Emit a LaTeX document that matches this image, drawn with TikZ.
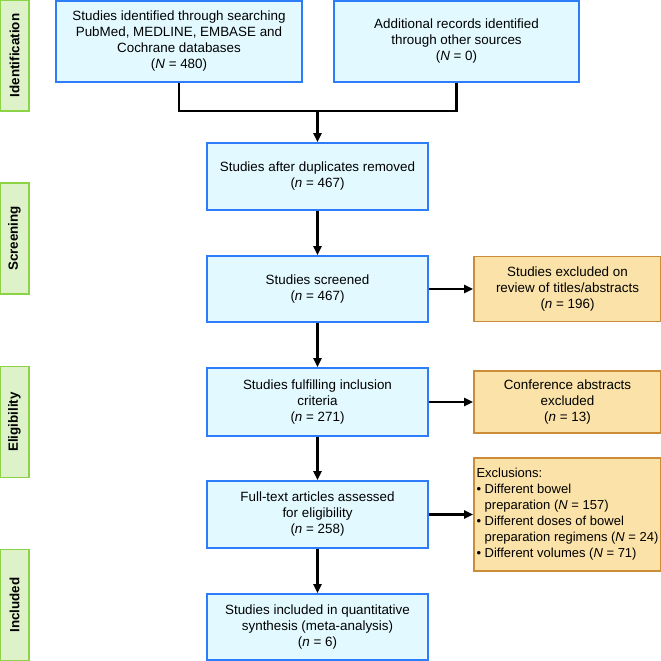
\documentclass[tikz,border=0pt]{standalone}
\usepackage{fontspec}
\setmainfont{Liberation Sans}
\usetikzlibrary{arrows.meta}

\definecolor{boxblue}{RGB}{45,125,250}
\definecolor{fillblue}{RGB}{226,250,255}
\definecolor{boxorange}{RGB}{205,140,55}
\definecolor{fillorange}{RGB}{250,226,168}
\definecolor{tabgreen}{RGB}{140,212,70}
\definecolor{filltab}{RGB}{222,242,202}

\tikzset{
  boxfont/.style={font=\fontsize{13.4}{16}\selectfont},
  flowbox/.style={boxfont, draw=boxblue, fill=fillblue, line width=1.8pt, align=center, inner sep=0pt},
  exclbox/.style={boxfont, draw=boxorange, fill=fillorange, line width=1.8pt, align=center, inner sep=0pt},
  phase/.style={font=\fontsize{13.4}{16}\selectfont\bfseries, draw=tabgreen, fill=filltab, line width=1.8pt,
    minimum width=111pt, minimum height=29pt, rotate=90, inner sep=0pt},
  arr/.style={-{Triangle[length=9pt,width=8pt]}, line width=2.2pt},
}

\begin{document}
\begin{tikzpicture}[x=1pt, y=-1pt]
    \useasboundingbox (0,0) rectangle (661,661);

    % Phases
    \node[phase] (identification) at (14.5,55.5) {Identification};
    \node[phase] (screening) at (14.5,238.5) {Screening};
    \node[phase] (eligibility) at (14.5,422) {Eligibility};
    \node[phase] (included) at (14.5,605) {Included};

    % Main boxes
    \node[flowbox, minimum width=246pt, minimum height=81pt] (searched) at (179,41.5)
        {Studies identified through searching\\PubMed, MEDLINE, EMBASE and\\Cochrane databases\\(\textit{N} = 480)};
    \node[flowbox, minimum width=245pt, minimum height=81pt] (other) at (456.5,41.5)
        {Additional records identified\\through other sources\\(\textit{N} = 0)};
    \node[flowbox, minimum width=221pt, minimum height=67pt] (duplicates) at (317.5,176.5)
        {Studies after duplicates removed\\(\textit{n} = 467)};
    \node[flowbox, minimum width=221pt, minimum height=66pt] (screened) at (317.5,289)
        {Studies screened\\(\textit{n} = 467)};
    \node[flowbox, minimum width=221pt, minimum height=68pt] (fulfilling) at (317.5,402)
        {Studies fulfilling inclusion\\criteria\\(\textit{n} = 271)};
    \node[flowbox, minimum width=221pt, minimum height=67pt] (fulltext) at (317.5,514.5)
        {Full-text articles assessed\\for eligibility\\(\textit{n} = 258)};
    \node[flowbox, minimum width=221pt, minimum height=66pt] (quantitative) at (317.5,627)
        {Studies included in quantitative\\synthesis (meta-analysis)\\(\textit{n} = 6)};

    % Exclusion boxes
    \node[exclbox, minimum width=187pt, minimum height=65pt] (titles) at (567.5,289)
        {Studies excluded on\\review of titles/abstracts\\(\textit{n} = 196)};
    \node[exclbox, minimum width=187pt, minimum height=62pt] (conference) at (567.5,402)
        {Conference abstracts\\excluded\\(\textit{n} = 13)};
    \node[exclbox, align=left, font=\fontsize{13}{16}\selectfont, minimum width=187pt, minimum height=113pt] (exclusions) at (567.5,514.5)
        {Exclusions:\\
         \textbullet{} Different bowel\\
         \phantom{\textbullet{} }preparation (\textit{N} = 157)\\
         \textbullet{} Different doses of bowel\\
         \phantom{\textbullet{} }preparation regimens (\textit{N} = 24)\\
         \textbullet{} Different volumes (\textit{N} = 71)};

    % Connectors
    \coordinate (merge) at (317.5,111);
    \draw[line width=2.2pt] (searched.south) |- (merge) -| (other.south);
    \draw[arr] (merge) -- (duplicates);
    \draw[arr] (duplicates) -- (screened);
    \draw[arr] (screened) -- (fulfilling);
    \draw[arr] (fulfilling) -- (fulltext);
    \draw[arr] (fulltext) -- (quantitative);
    \draw[arr] (screened) -- (titles);
    \draw[arr] (fulfilling) -- (conference);
    \draw[arr] (fulltext) -- (exclusions);
\end{tikzpicture}
\end{document}
